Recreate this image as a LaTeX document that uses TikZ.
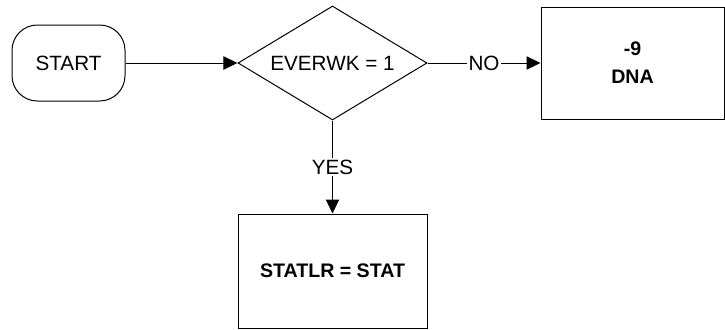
\documentclass[tikz,border=0pt]{standalone}
\usepackage{fontspec}
\setmainfont{Liberation Sans}
\usetikzlibrary{shapes.geometric,arrows.meta}
\begin{document}
\begin{tikzpicture}[x=0.75pt,y=-0.75pt,
  every node/.style={font=\fontsize{15.5pt}{18pt}\selectfont},
  outline/.style={draw=black,line width=0.75pt,inner sep=0pt,align=center},
  startbox/.style={outline,rectangle,rounded corners=19pt,minimum width=84.75pt,minimum height=57pt},
  decision/.style={outline,diamond,aspect=1.66,minimum width=141.75pt,minimum height=85.5pt},
  procbox/.style={outline,rectangle,font=\fontsize{14.7pt}{21pt}\selectfont\bfseries},
  lbl/.style={fill=white,inner sep=1pt},
  conn/.style={line width=0.75pt},
  arr/.style={conn,-{Triangle[length=10.5pt,width=10pt]}}
]
\useasboundingbox (0,0) rectangle (725,329);
\node[startbox] (start) at (68.5,63) {START};
\node[decision] (dec) at (332.5,63) {EVERWK = 1};
\node[procbox,minimum width=137.25pt,minimum height=84pt] (dna) at (632.5,63) {-9\\DNA};
\node[procbox,minimum width=141.75pt,minimum height=85.5pt] (stat) at (332.5,271) {STATLR = STAT};
\draw[arr] (start) -- (dec);
\draw[arr] (dec.east) -- (dna.west) node[lbl,pos=0.5] (no) {NO};
\draw[arr] (dec.south) -- (stat.north) node[lbl,pos=0.5] (yes) {YES};
\end{tikzpicture}
\end{document}
